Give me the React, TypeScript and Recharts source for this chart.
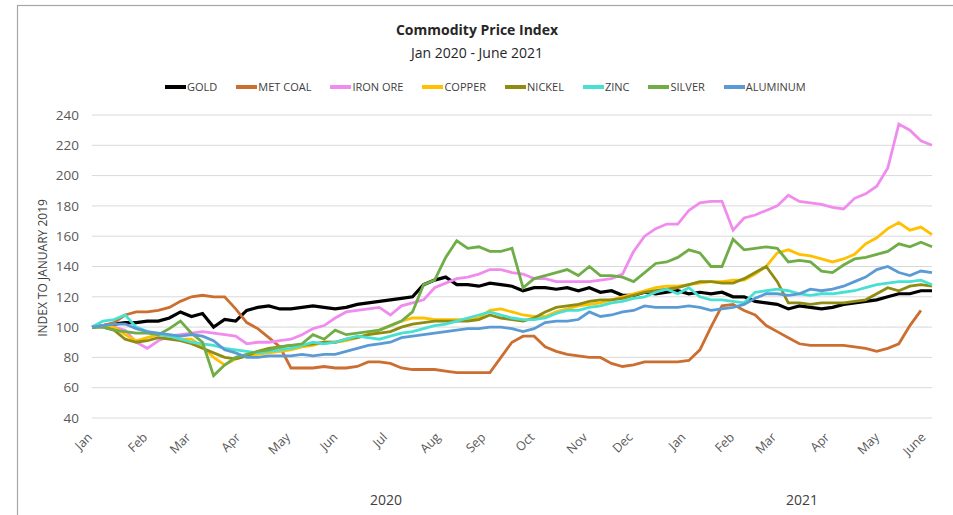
import React from 'react';
import { LineChart, Line, XAxis, YAxis, CartesianGrid, Legend, ReferenceLine } from 'recharts';

// Weekly samples, Jan 2020 (index 0) to mid-June 2021 (index 76)
const gold = [
  100, 101, 102, 103, 103, 104, 104, 106, 110, 107,
  109, 100, 105, 104, 111, 113, 114, 112, 112, 113,
  114, 113, 112, 113, 115, 116, 117, 118, 119, 120,
  128, 131, 133, 128, 128, 127, 129, 128, 127, 124,
  126, 126, 125, 126, 124, 126, 123, 124, 121, 121,
  123, 122, 123, 124, 122, 123, 122, 123, 120, 120,
  117, 116, 115, 112, 114, 113, 112, 113, 115, 116,
  117, 118, 120, 122, 122, 124, 124,
];
const metCoal = [
  100, 101, 103, 108, 110, 110, 111, 113, 117, 120,
  121, 120, 120, 112, 103, 99, 93, 87, 73, 73,
  73, 74, 73, 73, 74, 77, 77, 76, 73, 72,
  72, 72, 71, 70, 70, 70, 70, 80, 90, 94,
  94, 87, 84, 82, 81, 80, 80, 76, 74, 75,
  77, 77, 77, 77, 78, 85, 100, 114, 115, 111,
  108, 101, 97, 93, 89, 88, 88, 88, 88, 87,
  86, 84, 86, 89, 101, 111, null,
];
const ironOre = [
  100, 101, 100, 98, 90, 86, 91, 94, 95, 96,
  97, 96, 95, 94, 89, 90, 90, 91, 92, 95,
  99, 101, 106, 110, 111, 112, 113, 108, 114, 116,
  118, 126, 129, 132, 133, 135, 138, 138, 136, 135,
  132, 132, 130, 130, 130, 130, 131, 132, 135, 150,
  160, 165, 168, 168, 177, 182, 183, 183, 164, 172,
  174, 177, 180, 187, 183, 182, 181, 179, 178, 185,
  188, 193, 205, 234, 230, 223, 220,
];
const copper = [
  100, 101, 100, 95, 91, 93, 95, 94, 92, 92,
  87, 80, 75, 79, 81, 82, 83, 84, 85, 87,
  88, 90, 90, 91, 93, 95, 98, 101, 104, 106,
  106, 105, 105, 105, 105, 106, 111, 112, 110, 108,
  107, 107, 110, 112, 114, 115, 116, 118, 120, 122,
  124, 126, 127, 127, 128, 129, 130, 130, 131, 131,
  135, 140, 149, 151, 148, 147, 145, 143, 145, 148,
  155, 159, 165, 169, 164, 166, 161,
];
const nickel = [
  100, 100, 98, 92, 90, 91, 93, 92, 91, 89,
  86, 83, 80, 79, 81, 84, 86, 87, 88, 88,
  89, 90, 90, 92, 93, 95, 96, 97, 100, 102,
  103, 104, 104, 104, 104, 105, 108, 106, 105, 104,
  106, 110, 113, 114, 115, 117, 118, 118, 119, 121,
  123, 124, 125, 126, 128, 130, 130, 129, 129, 132,
  136, 140, 130, 116, 116, 115, 116, 116, 116, 117,
  118, 122, 126, 124, 127, 128, 127,
];
const zinc = [
  100, 104, 105, 108, 100, 97, 95, 94, 92, 90,
  89, 88, 86, 85, 84, 83, 84, 85, 86, 88,
  90, 89, 90, 92, 94, 93, 92, 94, 96, 97,
  99, 101, 102, 104, 106, 108, 110, 108, 106, 105,
  105, 106, 109, 111, 111, 113, 114, 116, 117, 119,
  120, 123, 125, 122, 126, 120, 118, 118, 117, 116,
  123, 124, 125, 124, 122, 121, 122, 122, 123, 124,
  126, 128, 129, 130, 130, 131, 128,
];
const silver = [
  100, 100, 98, 97, 96, 96, 95, 99, 104, 96,
  90, 68, 75, 80, 82, 84, 85, 87, 88, 89,
  95, 92, 98, 95, 96, 97, 98, 101, 104, 110,
  128, 131, 146, 157, 152, 153, 150, 150, 152, 126,
  132, 134, 136, 138, 134, 140, 134, 134, 133, 130,
  136, 142, 143, 146, 151, 149, 140, 140, 158, 151,
  152, 153, 152, 143, 144, 143, 137, 136, 141, 145,
  146, 148, 150, 155, 153, 156, 153,
];
const aluminum = [
  100, 101, 102, 102, 99, 97, 96, 95, 94, 95,
  94, 91, 85, 83, 80, 80, 81, 81, 81, 82,
  81, 82, 82, 84, 86, 88, 89, 90, 93, 94,
  95, 96, 97, 98, 99, 99, 100, 100, 99, 97,
  99, 103, 104, 104, 105, 110, 107, 108, 110, 111,
  114, 113, 113, 113, 114, 113, 111, 112, 113, 115,
  119, 122, 122, 121, 122, 125, 124, 125, 127, 130,
  133, 138, 140, 136, 134, 137, 136,
];

const seriesNames = ['GOLD', 'MET COAL', 'IRON ORE', 'COPPER', 'NICKEL', 'ZINC', 'SILVER', 'ALUMINUM'];
const seriesValues = [gold, metCoal, ironOre, copper, nickel, zinc, silver, aluminum];
const seriesColors = ['#000000', '#CC6E30', '#F08CEE', '#FFC000', '#8E8C12', '#48E0D2', '#70AD47', '#5B9BD5'];

const monthTicks = [0, 5.0, 8.9, 13.4, 17.9, 22.2, 26.7, 31.5, 35.6, 40.0, 44.8, 48.9, 53.7, 58.1, 61.9, 66.7, 71.2, 75.4];
const monthLabels = ['Jan', 'Feb', 'Mar', 'Apr', 'May', 'Jun', 'Jul', 'Aug', 'Sep', 'Oct', 'Nov', 'Dec', 'Jan', 'Feb', 'Mar', 'Apr', 'May', 'June'];
const yTicks = [40, 60, 80, 100, 120, 140, 160, 180, 200, 220, 240];
const yearLabels = ['2020', '2021'];

const rows = gold.map((_, i) => {
  const r: Record<string, number | null> = { w: i };
  seriesNames.forEach((n, k) => {
    r[n] = seriesValues[k][i] as number | null;
  });
  return r;
});

const FONT = '"Open Sans", "Noto Sans", sans-serif';

const MonthTick = (props: any) => {
  const { x, y, payload } = props;
  const idx = monthTicks.indexOf(payload.value);
  const label = idx >= 0 ? monthLabels[idx] : '';
  const ax = x + 1;
  const ay = y + 20;
  return (
    <text x={ax} y={ay} transform={`rotate(-45 ${ax} ${ay})`} textAnchor="end" fill="#595959" fontSize={12.5} fontFamily={FONT}>
      {label}
    </text>
  );
};

const LegendContent = () => (
  <div style={{ display: 'flex', alignItems: 'center', gap: 19, marginLeft: 165, fontFamily: FONT, fontSize: 11, color: '#404040' }}>
    {seriesNames.map((n, k) => (
      <div key={n} style={{ display: 'flex', alignItems: 'center' }}>
        <div style={{ width: 21, height: 4, background: seriesColors[k], marginRight: 1 }} />
        <span>{n}</span>
      </div>
    ))}
  </div>
);

export default function App() {
  return (
    <div style={{ position: 'absolute', left: 0, top: 0, width: 953, height: 515, background: '#fff', overflow: 'hidden' }}>
      <LineChart width={953} height={515} data={rows} margin={{ top: 115, right: 21, left: 30, bottom: 57 }}>
        <CartesianGrid vertical={false} stroke="#D9D9D9" strokeWidth={1} />
        <ReferenceLine y={100} stroke="#E6E6E6" strokeDasharray="10 5" />
        <XAxis
          dataKey="w"
          type="number"
          domain={[0, 76]}
          ticks={monthTicks}
          interval={0}
          axisLine={false}
          tickLine={false}
          tickSize={0}
          tickMargin={0}
          height={40}
          tick={<MonthTick />}
        />
        <YAxis
          domain={[40, 240]}
          ticks={yTicks}
          interval={0}
          axisLine={false}
          tickLine={false}
          tickSize={0}
          tickMargin={13}
          width={62}
          tick={{ fill: '#595959', fontSize: 13.5, fontFamily: FONT }}
        />
        <Legend
          verticalAlign="middle"
          align="center"
          layout="horizontal"
          wrapperStyle={{ position: 'absolute', top: 79, left: 0, width: 953 }}
          content={<LegendContent />}
        />
        {seriesNames.map((n, k) => (
          <Line
            key={n}
            dataKey={n}
            name={n}
            type="linear"
            stroke={seriesColors[k]}
            strokeWidth={n === 'GOLD' ? 3.2 : 2.8}
            dot={false}
            activeDot={false}
            connectNulls={false}
            isAnimationActive={false}
          />
        ))}
      </LineChart>
      <svg width={953} height={515} style={{ position: 'absolute', left: 0, top: 0, pointerEvents: 'none' }}>
        <rect x={17.5} y={5.5} width={1000} height={600} fill="none" stroke="#A6A6A6" strokeWidth={1.2} />
        <text x={477} y={35} textAnchor="middle" fontFamily={FONT} fontWeight={700} fontSize={14} fill="#262626">
          Commodity Price Index
        </text>
        <text x={477} y={58} textAnchor="middle" fontFamily={FONT} fontSize={14} fill="#262626">
          Jan 2020 - June 2021
        </text>
        <text x={47} y={268} transform="rotate(-90 47 268)" textAnchor="middle" fontFamily={FONT} fontSize={12} fill="#404040">
          INDEX TO JANUARY 2019
        </text>
        <text x={386} y={505} textAnchor="middle" fontFamily={FONT} fontSize={14} fill="#404040">
          {yearLabels[0]}
        </text>
        <text x={802} y={505} textAnchor="middle" fontFamily={FONT} fontSize={14} fill="#404040">
          {yearLabels[1]}
        </text>
      </svg>
    </div>
  );
}
